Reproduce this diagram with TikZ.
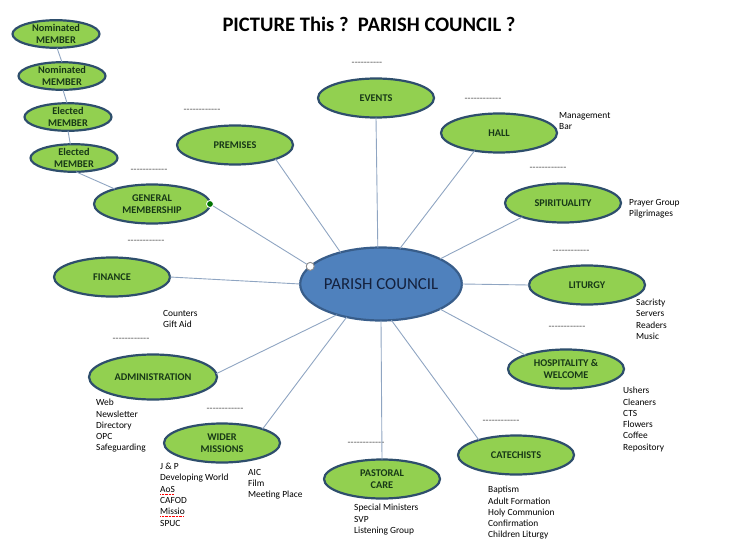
\documentclass[tikz,border=0pt]{standalone}
\usepackage{fontspec}
\setmainfont{Carlito}
\usetikzlibrary{shapes.geometric}
\definecolor{leaf}{HTML}{92D050}
\definecolor{rim}{HTML}{2E4E6C}
\definecolor{hubfill}{HTML}{4F81BD}
\definecolor{hubrim}{HTML}{385D8A}
\definecolor{hubtext}{HTML}{14213D}
\definecolor{wire}{HTML}{8FA5C2}
\definecolor{ink}{HTML}{173817}
\tikzset{bub/.style={ellipse,draw=rim,line width=2.2pt,fill=leaf,minimum width=116pt,minimum height=39pt,inner sep=0pt,outer sep=0pt,align=center,text=ink,font=\bfseries\fontsize{10.3}{12.3}\selectfont}}
\tikzset{mem/.style={bub,minimum width=87pt,minimum height=27pt}}
\tikzset{hub/.style={ellipse,draw=hubrim,line width=2.2pt,fill=hubfill,minimum width=140pt,minimum height=73pt,inner sep=0pt,outer sep=0pt,text=hubtext,font=\fontsize{16.8}{20}\selectfont}}
\tikzset{lst/.style={anchor=north west,align=left,inner sep=0pt,font=\fontsize{9.4}{11.3}\selectfont}}
\tikzset{dsh/.style={inner sep=0pt,text=black!70,font=\fontsize{10}{10}\selectfont}}
\tikzset{ln/.style={draw=wire,line width=0.9pt}}
\newcommand\dashrow[1]{\foreach\k in {1,...,#1}{-\kern0pt}}
\newcommand\spell[1]{\setbox0\hbox{#1}\rlap{\raisebox{-2pt}{\color{red}\hbox to\wd0{\leaders\hbox to 1.4pt{\hss\rule{0.9pt}{0.5pt}\hss}\hfill}}}#1}

\begin{document}
\begin{tikzpicture}[x=1pt, y=-1pt]
    \useasboundingbox (0,0) rectangle (739,554);
    \node[font=\bfseries\fontsize{20.6}{24}\selectfont] (title) at (369,24.5) {PICTURE This ?\ \ PARISH COUNCIL ?};

    \node[hub] (pc) at (381,284) {PARISH COUNCIL};

    \node[mem] (nom1) at (56,34) {Nominated\\MEMBER};
    \node[mem] (nom2) at (62,76) {Nominated\\MEMBER};
    \node[mem] (el1) at (68,117) {Elected\\MEMBER};
    \node[mem] (el2) at (74,158) {Elected\\MEMBER};
    \node[bub] (gen) at (152,204) {GENERAL\\MEMBERSHIP};
    \node[bub] (prem) at (235,145) {PREMISES};
    \node[bub] (ev) at (376,98) {EVENTS};
    \node[bub] (hall) at (499,133) {HALL};
    \node[bub] (spir) at (563,203) {SPIRITUALITY};
    \node[bub] (lit) at (587,285) {LITURGY};
    \node[bub] (hosp) at (566,369) {HOSPITALITY \&\\WELCOME};
    \node[bub] (cat) at (516,455) {CATECHISTS};
    \node[bub] (past) at (382,479) {PASTORAL\\CARE};
    \node[bub] (wid) at (222,443) {WIDER\\MISSIONS};
    \node[bub, minimum width=128pt, minimum height=45pt] (adm) at (153,377) {ADMINISTRATION};
    \node[bub] (fin) at (112,277) {FINANCE};

    \node[dsh] (d-ev) at (367,64) {\dashrow{10}};
    \node[dsh] (d-hall) at (483,100) {\dashrow{12}};
    \node[dsh] (d-spir) at (548,169) {\dashrow{12}};
    \node[dsh] (d-lit) at (571,252) {\dashrow{12}};
    \node[dsh] (d-hosp) at (567,328) {\dashrow{12}};
    \node[dsh] (d-cat) at (501,422) {\dashrow{12}};
    \node[dsh] (d-past) at (366,444) {\dashrow{12}};
    \node[dsh] (d-wid) at (225,410) {\dashrow{12}};
    \node[dsh] (d-adm) at (131,340) {\dashrow{12}};
    \node[dsh] (d-fin) at (146,242) {\dashrow{12}};
    \node[dsh] (d-gen) at (149,171) {\dashrow{12}};
    \node[dsh] (d-prem) at (202,111) {\dashrow{12}};

    \node[lst] (l-hall) at (559,112) {Management\\Bar};
    \node[lst] (l-spir) at (629,199) {Prayer Group\\Pilgrimages};
    \node[lst] (l-lit) at (636,299) {Sacristy\\Servers\\Readers\\Music};
    \node[lst] (l-hosp) at (623,387) {Ushers\\Cleaners\\CTS\\Flowers\\Coffee\\Repository};
    \node[lst] (l-cat) at (488,486) {Baptism\\Adult Formation\\Holy Communion\\Confirmation\\Children Liturgy};
    \node[lst] (l-past) at (354,504) {Special Ministers\\SVP\\Listening Group};
    \node[lst] (l-aic) at (248,469) {AIC\\Film\\Meeting Place};
    \node[lst] (l-wid) at (160,463) {J \& P\\Developing World\\\spell{AoS}\\CAFOD\\\spell{Missio}\\SPUC};
    \node[lst] (l-adm) at (96,399) {Web\\Newsletter\\Directory\\OPC\\Safeguarding};
    \node[lst] (l-fin) at (163,310) {Counters\\Gift Aid};

    \draw[ln] (nom1.-86) -- (nom2.90);
    \draw[ln] (nom2.-86) -- (el1.94);
    \draw[ln] (el1.-90) -- (el2.105);
    \draw[ln] (el2.-82) -- (gen.158);
    \draw[ln] (gen.east) -- (pc.166);
    \draw[ln] (prem.-19) -- (pc.142);
    \draw[ln] (ev.-90) -- (pc.95);
    \draw[ln] (hall.216) -- (pc.62);
    \draw[ln] (spir.199) -- (pc.23);
    \draw[ln] (lit.180) -- (pc.0);
    \draw[ln] (hosp.161) -- (pc.-23);
    \draw[ln] (cat.158) -- (pc.-74);
    \draw[ln] (past.90) -- (pc.-90);
    \draw[ln] (wid.19) -- (pc.-136);
    \draw[ln] (adm.3) -- (pc.-145);
    \draw[ln] (fin.0) -- (pc.180);

    \node[circle, fill=green!45!black, draw=white, line width=0.9pt, minimum size=7pt, inner sep=0pt] (gdot) at (gen.east) {};
    \node[circle, fill=white, draw=black!45, line width=0.9pt, minimum size=8pt, inner sep=0pt] (wdot) at (pc.166) {};
\end{tikzpicture}
\end{document}
